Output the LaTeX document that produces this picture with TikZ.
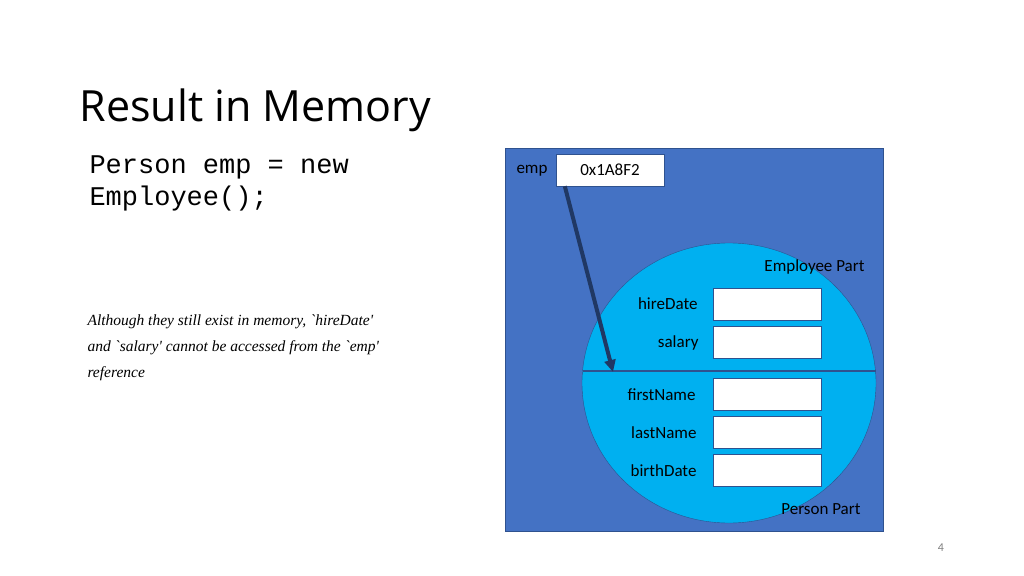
\documentclass[tikz,border=0pt]{standalone}
\usepackage{fontspec}
\setmainfont{Carlito}
\newfontfamily\titlefont{Open Sans}
\newfontfamily\codefont{Liberation Mono}
\newfontfamily\notefont{Liberation Serif}
\usetikzlibrary{positioning, arrows.meta}
\definecolor{memblue}{HTML}{4472C4}
\definecolor{memedge}{HTML}{2F528F}
\definecolor{partblue}{HTML}{00B0F0}
\definecolor{ptrnavy}{HTML}{203864}

\begin{document}
\begin{tikzpicture}[x=1pt, y=-1pt,
            cell/.style={rectangle, draw=memedge, fill=white, minimum width=108pt, minimum height=32pt, inner sep=0pt, font=\fontsize{17}{20}\selectfont},
            field/.style={anchor=east, font=\fontsize{17}{20}\selectfont},
            arrow/.style={-{Triangle[length=12pt,width=11pt]}, line width=4pt, ptrnavy}
        ]
\useasboundingbox (0,0) rectangle (1024,575);

% Title and code
            \node[anchor=west, font=\titlefont\fontsize{43}{50}\selectfont] (title) at (76,110) {Result in Memory};
            \node[anchor=north west, align=left, font=\codefont\fontsize{27}{32}\selectfont] (code) at (86,152) {Person emp = new\\ Employee();};

% Note
            \node[anchor=north west, align=left, font=\notefont\itshape\fontsize{15.5}{26}\selectfont] (note) at (84,311) {Although they still exist in memory, `hireDate'\\and `salary' cannot be accessed from the `emp'\\reference};

% Memory
            \draw[memedge, fill=memblue] (505,148) rectangle (883,531);
            \draw[memedge, fill=partblue] (729,383) ellipse [x radius=147, y radius=140];
            \draw[memedge, line width=1.2pt] (582.5,371) -- (875.5,371);

% Pointer
            \node[field] (emplbl) at (551,171) {emp};
            \node[cell] (ptr) at (610,170) {0x1A8F2};

% Employee part
            \node[anchor=east, font=\fontsize{17}{20}\selectfont] (emppart) at (868,267) {Employee Part};
            \node[cell] (hire) at (767,304) {};
            \node[cell] (sal) at (767,342) {};
            \node[field] at (701,304) {hireDate};
            \node[field] at (702,343) {salary};

% Person part
            \node[cell] (first) at (767,394) {};
            \node[cell] (last) at (767,432) {};
            \node[cell] (birth) at (767,470) {};
            \node[field] at (699,395) {firstName};
            \node[field] at (700,433) {lastName};
            \node[field] at (700,471) {birthDate};
            \node[anchor=east, font=\fontsize{17}{20}\selectfont] (perspart) at (864,509) {Person Part};

% Reference arrow
            \coordinate (tip) at (613,372);
            \draw[arrow] (ptr.south west) ++(9,0) coordinate (tail) (tail) -- (tip);

            \node[text=gray, font=\fontsize{12}{14}\selectfont] (page) at (941,548) {4};

        \end{tikzpicture}
\end{document}
